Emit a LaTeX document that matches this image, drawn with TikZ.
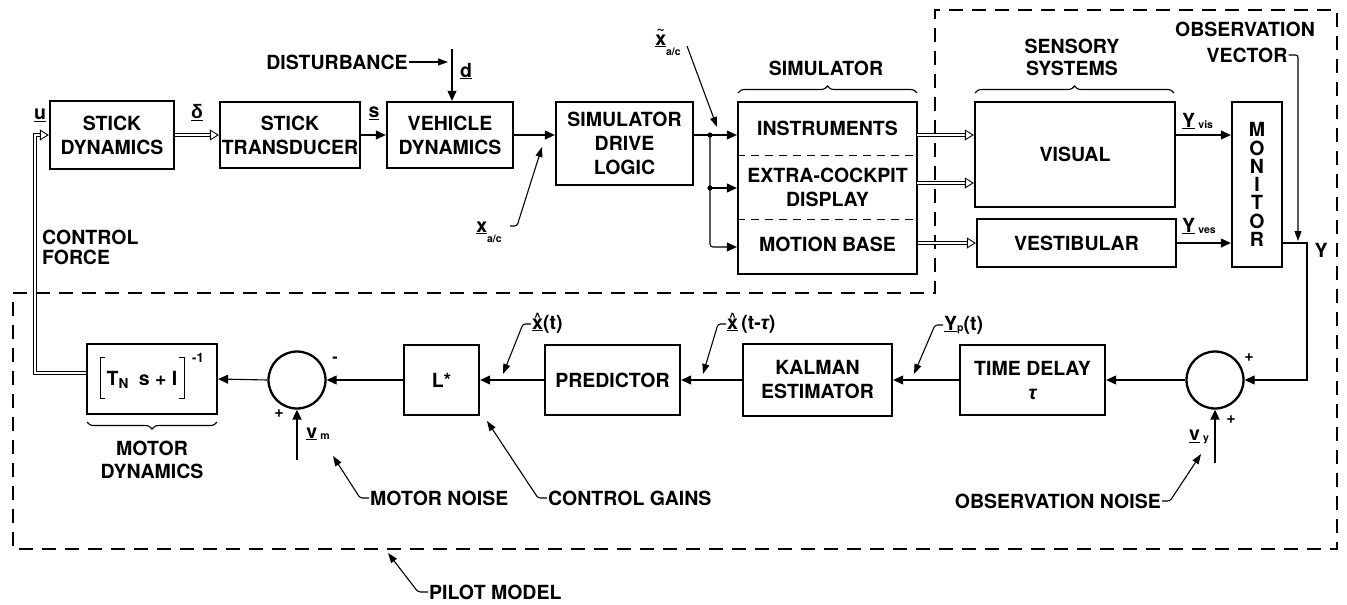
\documentclass[tikz,border=0pt]{standalone}
\usepackage{fontspec}
\setmainfont{TeX Gyre Heros}
\newfontfamily\grk{Liberation Sans}
\usetikzlibrary{arrows.meta,decorations.pathreplacing}
\newcommand{\xhat}{\ooalign{\underline{x}\cr\hidewidth\raisebox{7.5pt}{\fontsize{12}{12}\selectfont\textasciicircum}\hidewidth\cr}}
\newcommand{\xtil}{\ooalign{\underline{x}\cr\hidewidth\raisebox{11.5pt}{\fontsize{14}{14}\selectfont\textasciitilde}\hidewidth\cr}}
\newcommand{\sbx}[1]{\raisebox{-1pt}{\fontsize{10.5}{12}\selectfont #1}}
\begin{document}
\begin{tikzpicture}[x=1pt,y=-1pt,
  font=\fontsize{19.5}{24}\selectfont\bfseries,
  blk/.style={draw,line width=2.3pt,align=center,inner sep=0pt},
  lbl/.style={inner sep=1pt,align=center},
  pm/.style={inner sep=0pt,font=\fontsize{16}{16}\selectfont\bfseries},
  conn/.style={line width=1.1pt,-{Triangle[length=10pt,width=9pt]}},
  lead/.style={line width=1.1pt,-{Triangle[length=10pt,width=7pt]},rounded corners=2.5pt},
  dbl/.style={double,double distance=2.4pt,line width=0.9pt,-{Triangle[open,length=9pt,width=11pt]}},
  sumj/.style={draw,circle,line width=2.3pt,minimum size=57pt,inner sep=0pt},
  bnd/.style={line width=1.4pt,dash pattern=on 14pt off 9pt},
  brc/.style={decorate,decoration={brace,amplitude=7pt},line width=1.1pt},
  divl/.style={line width=0.9pt,dash pattern=on 8pt off 6pt},
  brk/.style={line width=1pt},
]
\useasboundingbox (0,0) rectangle (1347,605);

% pilot model boundary
\draw[bnd] (13,293) -- (935,293) -- (935,10) -- (1337,10) -- (1337,549) -- (13,549) -- cycle;

% top row blocks
\node[blk,minimum width=124pt,minimum height=68pt] (sd) at (112,135) {STICK\\DYNAMICS};
\node[blk,minimum width=140pt,minimum height=66pt] (st) at (290,135) {STICK\\TRANSDUCER};
\node[blk,minimum width=126pt,minimum height=66pt] (vd) at (450,135) {VEHICLE\\DYNAMICS};
\node[blk,minimum width=137pt,minimum height=83pt] (sdl) at (624.5,143.5) {SIMULATOR\\DRIVE\\LOGIC};
\node[blk,minimum width=179pt,minimum height=172pt] (sim) at (827.5,188) {};
\node[lbl] (ins) at (827.5,128) {INSTRUMENTS};
\node[lbl] (ecd) at (827.5,187) {EXTRA-COCKPIT\\DISPLAY};
\node[lbl] (mb) at (827.5,244) {MOTION BASE};
\draw[divl] (sim.west |- 0,155) -- (sim.east |- 0,155);
\draw[divl] (sim.west |- 0,219) -- (sim.east |- 0,219);
\node[blk,minimum width=200pt,minimum height=105pt] (vis) at (1075,154.5) {VISUAL};
\node[blk,minimum width=199pt,minimum height=48pt] (ves) at (1076.5,243) {VESTIBULAR};
\node[blk,minimum width=50pt,minimum height=165pt,font=\fontsize{19.5}{18.3}\selectfont\bfseries] (mon) at (1257,184.5) {M\\O\\N\\I\\T\\O\\R};

% bottom row blocks
\node[blk,minimum width=145pt,minimum height=70pt] (td) at (1032.5,380) {TIME DELAY\\{\grk\itshape τ}};
\node[blk,minimum width=149pt,minimum height=72pt] (kal) at (817.5,380) {KALMAN\\ESTIMATOR};
\node[blk,minimum width=135pt,minimum height=70pt] (pred) at (612.5,380) {PREDICTOR};
\node[blk,minimum width=75pt,minimum height=70pt] (ls) at (441.5,380) {L*};
\node[sumj] (sj1) at (297,380) {};
\node[sumj] (sj2) at (1215,380) {};
\node[blk,minimum width=130pt,minimum height=70pt] (md) at (152,379) {};
\node[lbl] (mdtxt) at (142,380) {T\textsubscript{N}\enspace s + I};
\draw[brk] (105,357) -| (100,398) -- (105,398);
\draw[brk] (179,357) -| (184,398) -- (179,398);
\node[lbl,font=\fontsize{13}{13}\selectfont\bfseries] (mdexp) at (198,358) {-1};

% braces and group labels
\draw[brc] (738,93) -- (917,93);
\node[lbl] (simlbl) at (826,68) {SIMULATOR};
\draw[brc] (975,93) -- (1174,93);
\node[lbl,font=\fontsize{19.5}{22}\selectfont\bfseries] (senlbl) at (1072,57) {SENSORY\\SYSTEMS};
\node[lbl] (ob1) at (1245,29) {OBSERVATION};
\node[lbl] (ob2) at (1247,55) {VECTOR};
\draw[brc] (217,422) -- (87,422);
\node[lbl,font=\fontsize{19.5}{23}\selectfont\bfseries] (mdlbl) at (152,460) {MOTOR\\DYNAMICS};

% top row connectors
\coordinate (cf) at (35,373);
\draw[dbl] (md.west |- cf) -- (cf) |- (sd.west);
\node[lbl] (ulbl) at (40,115) {\underline{u}};
\node[lbl,anchor=west,align=left,font=\fontsize{19.5}{20}\selectfont\bfseries] (cflbl) at (41,247) {CONTROL\\FORCE};
\draw[dbl] (sd.east) -- (st.west);
\node[lbl] (dlbl) at (197,113) {\underline{{\grk δ}}};
\draw[conn] (st.east) -- (vd.west);
\node[lbl] (slbl) at (374,113) {\underline{s}};
\coordinate (d0) at (452,49);
\draw[conn] (d0) -- (d0 |- vd.north);
\node[lbl] (dd) at (466,71) {\underline{d}};
\node[lbl] (dist) at (337,62) {DISTURBANCE};
\coordinate (dt) at (448,62);
\draw[lead] (dist.east) -- (dt);
\draw[conn] (vd.east) -- (vd.east -| sdl.west);
\node[lbl] (xac) at (489,232) {\underline{x}\raisebox{-10pt}{\fontsize{10.5}{12}\selectfont a/c}};
\coordinate (xah) at (510,226);
\coordinate (xat) at (542,147);
\draw[lead] (xah) -- ++(7,0) -- (xat);
\node[lbl] (xtl) at (668,45) {\xtil\raisebox{-10pt}{\fontsize{10.5}{12}\selectfont a/c}};
\coordinate (xts) at (687,46);
\coordinate (xtt) at (717,127);
\draw[lead] (xts) -- (xtt);
\coordinate (j1) at (710,135);
\coordinate (j2) at (710,188);
\coordinate (j3) at (710,247);
\draw[line width=1.1pt] (sdl.east |- j1) -- (j1);
\draw[conn] (j1) -- (j1 -| sim.west);
\draw[conn] (j2) -- (j2 -| sim.west);
\draw[conn,rounded corners=3pt] (j1) |- (j3 -| sim.west);
\fill (j1) circle (2.6pt);
\fill (j2) circle (2.6pt);

\coordinate (o1) at (917,135);
\coordinate (o2) at (917,183);
\draw[dbl] (o1) -- (o1 -| vis.west);
\draw[dbl] (o2) -- (o2 -| vis.west);
\draw[dbl] (sim.east |- ves) -- (ves.west);

\coordinate (mv) at (1175,135);
\draw[conn] (mv) -- (mv -| mon.west);
\node[lbl,anchor=west] (yvis) at (1181,121) {\underline{Y}\,\sbx{vis}};
\draw[conn] (ves.east) -- (ves.east -| mon.west);
\node[lbl,anchor=west] (yves) at (1181,226) {\underline{Y}\,\sbx{ves}};

\coordinate (yc) at (1307,243);
\draw[conn] (ves.east -| mon.east) -- (yc) |- (sj2.east);
\coordinate (ovt) at (1298,241);
\draw[lead] (ob2.east) -| (ovt);
\node[lbl] (ylbl) at (1321,250) {Y};

% bottom row connectors
\draw[conn] (sj2.west) -- (td.east);
\draw[conn] (td.west) -- (kal.east);
\draw[conn] (kal.west) -- (pred.east);
\draw[conn] (pred.west) -- (ls.east);
\draw[conn] (ls.west) -- (sj1.east);
\draw[conn] (sj1.west) -- (md.east);

\node[pm] (p1) at (1249,358) {+};
\node[pm] (p2) at (1231,420) {+};
\node[pm] (m1) at (335,360) {-};
\node[pm] (p3) at (279,414) {+};

\coordinate (vy0) at (1215,463);
\draw[conn,line width=1.8pt] (vy0) -- (sj2.south);
\node[lbl] (vylbl) at (1199,437) {\underline{v}\,\sbx{y}};
\coordinate (vm0) at (297,460);
\draw[conn,line width=1.8pt] (vm0) -- (sj1.south);
\node[lbl] (vmlbl) at (318,434) {\underline{v}\,\sbx{m}};

\node[lbl,anchor=west] (xh1) at (531,324) {\xhat(t)};
\coordinate (xh1t) at (503,374);
\draw[lead] (xh1.west) -- ++(-8,0) -- (xh1t);
\node[lbl,anchor=west] (xh2) at (726,324) {\xhat\,(t-{\grk\itshape τ})};
\coordinate (xh2t) at (703,374);
\draw[lead] (xh2.west) -- ++(-8,0) -- (xh2t);
\node[lbl,anchor=west] (yp) at (943,325) {\underline{Y}\sbx{p}(t)};
\coordinate (ypt) at (914,374);
\draw[lead] (yp.west) -- ++(-8,0) -- (ypt);

\node[lbl,anchor=west] (mn) at (369,498) {MOTOR NOISE};
\coordinate (mnt) at (333,456);
\draw[lead] (mn.west) -- ++(-9,0) -- (mnt);
\node[lbl,anchor=west] (cg) at (547,498) {CONTROL GAINS};
\coordinate (cgt) at (487,421);
\draw[lead] (cg.west) -- ++(-9,0) -- (cgt);
\node[lbl,anchor=east] (obn) at (1162,501) {OBSERVATION NOISE};
\coordinate (ont) at (1201,454);
\draw[lead] (obn.east) -- ++(8,0) -- (ont);
\node[lbl,anchor=west] (pml) at (428,592) {PILOT MODEL};
\coordinate (pmt) at (388,553);
\draw[lead] (pml.west) -- ++(-10,0) -- (pmt);
\end{tikzpicture}
\end{document}
